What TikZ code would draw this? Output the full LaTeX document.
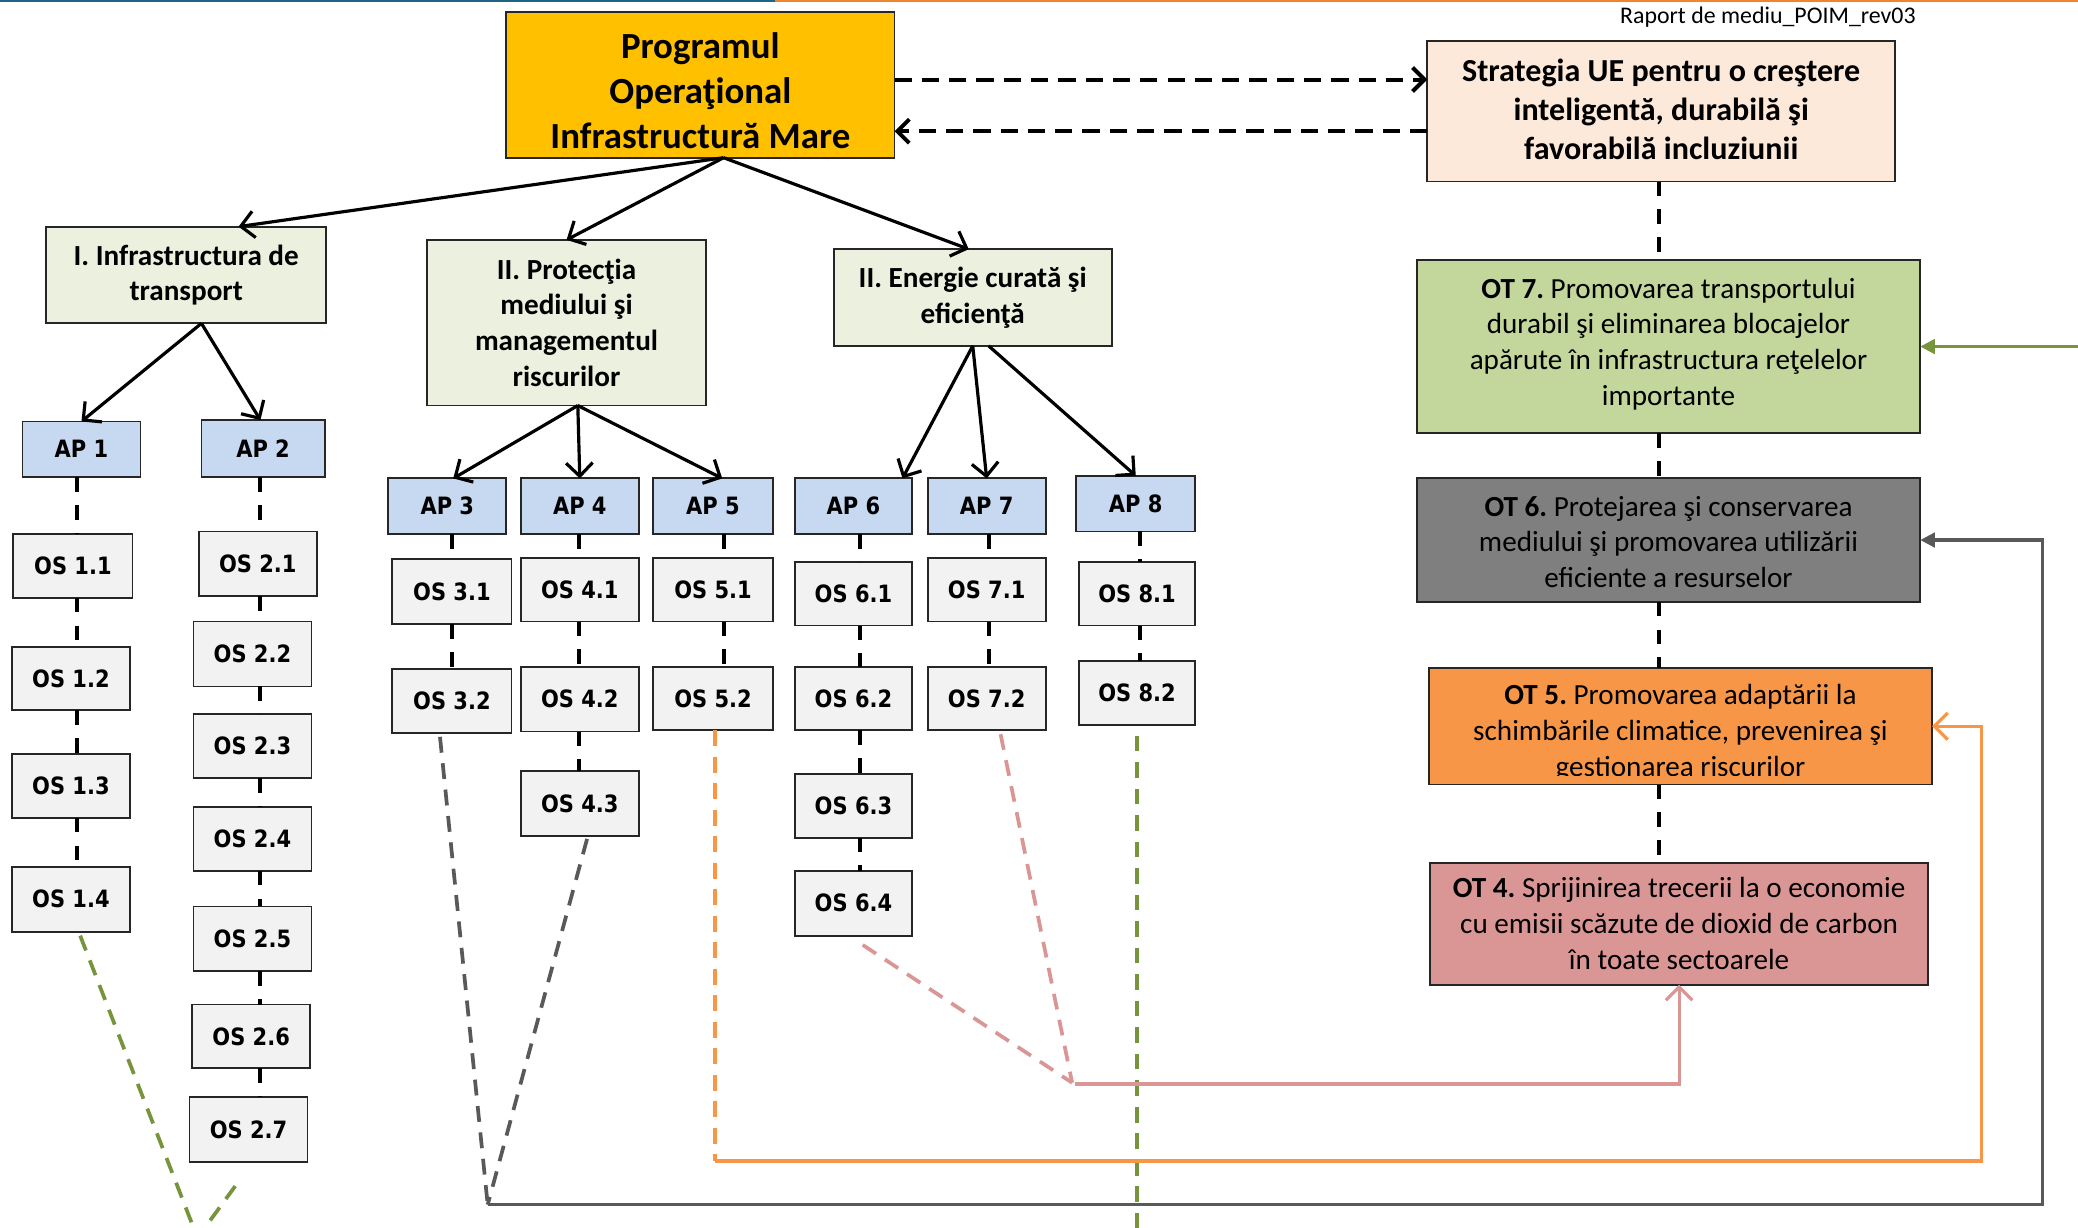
\documentclass[tikz,border=0pt]{standalone}
\usepackage{fontspec}
\setmainfont{Carlito}
\newfontfamily\vfont{DejaVu Sans}[FakeStretch=0.88]
\usetikzlibrary{arrows.meta,calc}
\frenchspacing
\definecolor{progcol}{HTML}{FFC000}
\definecolor{stratcol}{HTML}{FDE9D9}
\definecolor{axcol}{HTML}{EBF1DE}
\definecolor{apcol}{HTML}{C6D9F1}
\definecolor{oscol}{HTML}{F2F2F2}
\definecolor{otsev}{HTML}{C3D69B}
\definecolor{otsix}{HTML}{7F7F7F}
\definecolor{otfive}{HTML}{F79646}
\definecolor{otfour}{HTML}{DA9694}
\definecolor{lgreen}{HTML}{77933C}
\definecolor{lgray}{HTML}{595959}
\definecolor{lorange}{HTML}{F79646}
\definecolor{lpink}{HTML}{D99694}
\definecolor{topteal}{HTML}{1F6482}
\definecolor{toporange}{HTML}{F0852D}
\newcommand\BX[7]{\node[#2, minimum width={(#5-#3)*0.5pt}, minimum height={(#6-#4)*0.5pt}] (#1) at ({(#3+#5)/2},{(#4+#6)/2}) {#7};}
\newcommand\BXS[8]{\node[#2, minimum width={(#5-#3)*0.5pt}, minimum height={(#6-#4)*0.5pt}] (#1) at ({(#3+#5)/2},{(#4+#6)/2}) {};
  \node[#2, draw=none, fill=none, minimum width=0pt, minimum height=0pt] (#1t) at ($(#1.center)+(0,#8)$) {#7};}
\begin{document}
\begin{tikzpicture}[x=0.5pt,y=-0.5pt,
  bx/.style={draw=black!85, line width=0.7pt, inner sep=0pt, outer sep=0pt, align=center},
  progbox/.style={bx, fill=progcol, font=\bfseries\fontsize{13.9}{17}\selectfont},
  stratbox/.style={bx, fill=stratcol, font=\bfseries\fontsize{12.1}{14.75}\selectfont},
  axbox/.style={bx, fill=axcol, font=\bfseries\fontsize{11}{13.5}\selectfont},
  apbox/.style={bx, fill=apcol, font=\vfont\bfseries\fontsize{9}{10}\selectfont},
  osbox/.style={bx, fill=oscol, font=\vfont\bfseries\fontsize{9}{10}\selectfont},
  otbox/.style={bx, font=\fontsize{11}{13.5}\selectfont},
  ottext/.style={inner sep=0pt, align=center, font=\fontsize{11}{13.5}\selectfont},
  arr/.style={line width=1.2pt, -{Straight Barb[length=5pt,width=10pt]}},
  dl/.style={line width=1.5pt, dash pattern=on 5.5pt off 5pt},
  dla/.style={line width=1.5pt, dash pattern=on 6.5pt off 3.8pt, -{Straight Barb[length=4.5pt,width=9pt]}},
  cdash/.style={line width=1.4pt, dash pattern=on 6pt off 4pt},
  csolid/.style={line width=1.2pt},
  tri/.style={-{Triangle[length=5.5pt,width=5.5pt]}},
  barb/.style={-{Straight Barb[length=5pt,width=10pt]}},
]
\useasboundingbox (0,0) rectangle (1568,926);
\clip (0,0) rectangle (1568,926);
\fill[topteal] (0,0) rectangle (585,1.6);
\fill[toporange] (585,0) rectangle (1568,1.6);
\node[font=\fontsize{9}{11}\selectfont] (hdr) at (1334,13) {Raport de mediu\_POIM\_rev03};

% main boxes
\BXS{prog}{progbox}{382}{9}{675}{119}{Programul\\Operaţional\\Infrastructură Mare}{4.5}
\BXS{strat}{stratbox}{1077}{31}{1430}{137}{Strategia UE pentru o creştere\\inteligentă, durabilă şi\\favorabilă incluziunii}{-1.5}
\BX{ax1}{axbox}{35}{171}{246}{244}{I. Infrastructura de\\transport}
\BX{ax2}{axbox}{322}{181}{533}{306}{II. Protecţia\\mediului şi\\managementul\\riscurilor}
\BX{ax3}{axbox}{629}{188}{839}{261}{II. Energie curată şi\\eficienţă}

% AP boxes
\BX{ap1}{apbox}{17}{318}{106}{360}{AP 1}
\BX{ap2}{apbox}{152}{317}{245}{360}{AP 2}
\BX{ap3}{apbox}{293}{361}{382}{403}{AP 3}
\BX{ap4}{apbox}{393}{361}{482}{403}{AP 4}
\BX{ap5}{apbox}{493}{361}{583}{403}{AP 5}
\BX{ap6}{apbox}{600}{361}{688}{403}{AP 6}
\BX{ap7}{apbox}{700}{361}{789}{403}{AP 7}
\BX{ap8}{apbox}{812}{359}{902}{401}{AP 8}

% OS boxes
\BX{os11}{osbox}{10}{403}{100}{451}{OS 1.1}
\BX{os12}{osbox}{9}{488}{98}{536}{OS 1.2}
\BX{os13}{osbox}{9}{569}{98}{617}{OS 1.3}
\BX{os14}{osbox}{9}{654}{98}{703}{OS 1.4}
\BX{os21}{osbox}{150}{401}{239}{450}{OS 2.1}
\BX{os22}{osbox}{146}{469}{235}{518}{OS 2.2}
\BX{os23}{osbox}{146}{539}{235}{587}{OS 2.3}
\BX{os24}{osbox}{146}{609}{235}{657}{OS 2.4}
\BX{os25}{osbox}{146}{684}{235}{733}{OS 2.5}
\BX{os26}{osbox}{145}{758}{234}{806}{OS 2.6}
\BX{os27}{osbox}{143}{828}{232}{877}{OS 2.7}
\BX{os31}{osbox}{296}{422}{386}{471}{OS 3.1}
\BX{os32}{osbox}{296}{505}{386}{553}{OS 3.2}
\BX{os41}{osbox}{393}{421}{482}{469}{OS 4.1}
\BX{os42}{osbox}{393}{503}{482}{552}{OS 4.2}
\BX{os43}{osbox}{393}{582}{482}{631}{OS 4.3}
\BX{os51}{osbox}{493}{421}{583}{469}{OS 5.1}
\BX{os52}{osbox}{493}{503}{583}{551}{OS 5.2}
\BX{os61}{osbox}{600}{424}{688}{472}{OS 6.1}
\BX{os62}{osbox}{600}{503}{688}{551}{OS 6.2}
\BX{os63}{osbox}{600}{584}{688}{632}{OS 6.3}
\BX{os64}{osbox}{600}{657}{688}{706}{OS 6.4}
\BX{os71}{osbox}{700}{421}{789}{469}{OS 7.1}
\BX{os72}{osbox}{700}{503}{789}{551}{OS 7.2}
\BX{os81}{osbox}{814}{424}{902}{472}{OS 8.1}
\BX{os82}{osbox}{814}{499}{902}{547}{OS 8.2}

% OT boxes
\BXS{ot7}{otbox, fill=otsev}{1069}{196}{1449}{327}{\textbf{OT 7.} Promovarea transportului\\durabil şi eliminarea blocajelor\\apărute în infrastructura reţelelor\\importante}{-2}
\BXS{ot6}{otbox, fill=otsix}{1069}{361}{1449}{454}{\textbf{OT 6.} Protejarea şi conservarea\\mediului şi promovarea utilizării\\eficiente a resurselor}{1.5}
\BX{ot5}{otbox, fill=otfive}{1078}{504}{1458}{592}{}
\begin{scope}
  \clip (1078,504) rectangle (1458,585);
  \node[ottext] (ot5t) at (1268,553) {\textbf{OT 5.} Promovarea adaptării la\\schimbările climatice, prevenirea şi\\gestionarea riscurilor};
\end{scope}
\BX{ot4}{otbox, fill=otfour}{1079}{651}{1455}{743}{\textbf{OT 4.} Sprijinirea trecerii la o economie\\cu emisii scăzute de dioxid de carbon\\în toate sectoarele}

% dashed arrows between programme and strategy
\draw[dla] ($(prog.east)+(0,-4)$) -- ($(strat.west |- prog.east)+(0,-4)$);
\draw[dla] ($(strat.west |- prog.east)+(0,35)$) -- ($(prog.east)+(0,35)$);

% hierarchy arrows
\coordinate (ps) at ($(prog.south)+(17.5,0)$);
\draw[arr] (ps) -- ($(ax1.north)+(39.5,0)$);
\draw[arr] (ps) -- (ax2.north);
\draw[arr] (ps) -- ($(ax3.north)+(-3,0)$);
\coordinate (a1s) at ($(ax1.south)+(11.5,0)$);
\draw[arr] (a1s) -- (ap1.north);
\draw[arr] (a1s) -- ($(ap2.north)+(-2,0)$);
\coordinate (a2s) at ($(ax2.south)+(8.5,0)$);
\draw[arr] (a2s) -- ($(ap3.north)+(4.5,0)$);
\draw[arr] (a2s) -- (ap4.north);
\draw[arr] (a2s) -- ($(ap5.north)+(7,0)$);
\draw[arr] (ax3.south) -- ($(ap6.north east)+(-7,0)$);
\draw[arr] (ax3.south) -- (ap7.north);
\draw[arr] ($(ax3.south)+(12,0)$) -- (ap8.north);

% dashed chains
\coordinate (c1) at (58,0);
\coordinate (c2) at (196,0);
\coordinate (c3) at (341,0);
\coordinate (c4) at (437,0);
\coordinate (c5) at (546,0);
\coordinate (c6) at (649,0);
\coordinate (c7) at (746,0);
\coordinate (c8) at (860,0);
\coordinate (c9) at (1252,0);
\foreach \a/\b/\c in {ap1/os11/c1, os11/os12/c1, os12/os13/c1, os13/os14/c1,
  ap2/os21/c2, os21/os22/c2, os22/os23/c2, os23/os24/c2, os24/os25/c2, os25/os26/c2, os26/os27/c2,
  ap3/os31/c3, os31/os32/c3, ap4/os41/c4, os41/os42/c4, os42/os43/c4,
  ap5/os51/c5, os51/os52/c5, ap6/os61/c6, os61/os62/c6, os62/os63/c6, os63/os64/c6,
  ap7/os71/c7, os71/os72/c7, ap8/os81/c8, os81/os82/c8,
  strat/ot7/c9, ot7/ot6/c9, ot6/ot5/c9, ot5/ot4/c9}
  \draw[dl] (\a.south -| \c) -- (\b.north -| \c);

% green links
\coordinate (gm) at (149,934);
\draw[cdash, lgreen] ($(os14.south)+(7,3)$) -- (gm);
\draw[cdash, lgreen] ($(os27.south)+(-10,18)$) -- (gm);
\draw[cdash, lgreen] ($(os82.south)+(0,8)$) -- ($(os82.south)+(0,400)$);
\draw[csolid, lgreen, tri] ($(ot7.east)+(130,0)$) -- (ot7.east);

% grey links
\coordinate (km) at (368,909);
\draw[cdash, lgray] ($(os32.south)+(-9,3)$) -- (km);
\draw[cdash, lgray] ($(os43.south)+(5.5,2)$) -- (km);
\draw[csolid, lgray, tri] (km) -| ($(ot6.east)+(92,0)$) -- (ot6.east);

% orange links
\coordinate (om) at ($(os52.south)+(1.5,325)$);
\draw[cdash, lorange] ($(os52.south)+(1.5,0)$) -- (om);
\draw[csolid, lorange, barb] (om) -| ($(ot5.east)+(37,0)$) -- (ot5.east);

% pink links
\coordinate (pm) at (809,817);
\draw[cdash, lpink] ($(os64.south)+(7,7)$) -- (pm);
\draw[cdash, lpink] ($(os72.south)+(10.5,3)$) -- (pm);
\draw[csolid, lpink, barb] ($(pm)+(2,1)$) -| (ot4.south);
\end{tikzpicture}
\end{document}
